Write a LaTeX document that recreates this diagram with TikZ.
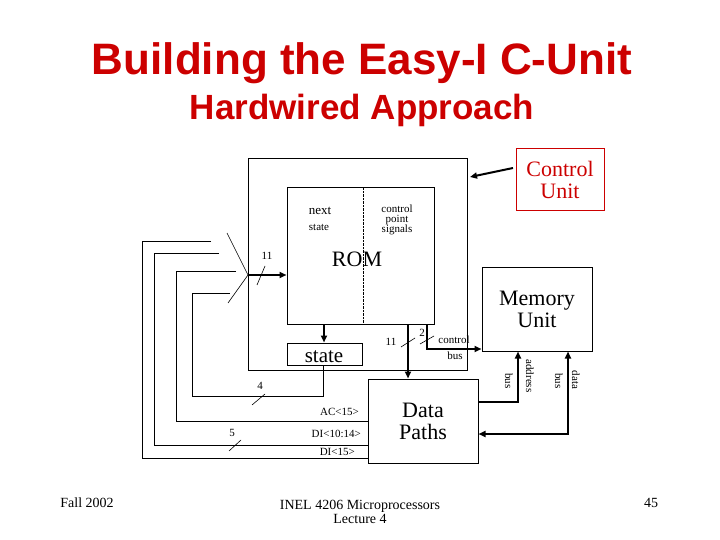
\documentclass[tikz,border=0pt]{standalone}
\usepackage{fontspec}
\setmainfont{Liberation Serif}
\newfontfamily\titlefont{Liberation Sans}
\usetikzlibrary{arrows.meta, positioning, calc}
\definecolor{titlered}{RGB}{204,0,0}
\newcommand{\fs}[1]{\fontsize{#1}{#1}\selectfont}
\begin{document}
\begin{tikzpicture}[x=1pt, y=-1pt,
  box/.style = {draw, line width=1pt, minimum width=0pt, minimum height=0pt, inner sep=0pt},
  wire/.style = {line width=1pt},
  arrow/.style = {line width=2pt, -{Triangle[length=7pt,width=6pt]}},
  lbl/.style = {font=\fs{11}, inner sep=1pt},
  slash/.style = {line width=0.6pt}
]
  \useasboundingbox (0,0) rectangle (720,540);

  % titles
  \node[font=\titlefont\bfseries\fs{44}, text=titlered] (title) at (362,63) {Building the Easy-I C-Unit};
  \node[font=\titlefont\bfseries\fs{35}, text=titlered] (subtitle) at (362,110) {Hardwired Approach};

  % blocks
  \node[box, minimum width=219pt, minimum height=211pt] (cu) at (357.5,264.5) {};
  \node[box, minimum width=147pt, minimum height=136pt] (rom) at (360.5,256) {};
  \draw[densely dotted] (363,188) -- (363,324);
  \node[font=\fs{22}] (romlbl) at (357,259) {ROM};
  \node[font=\fs{13}, align=left] (next) at (320,211) {next};
  \node[font=\fs{11}, align=left] (nstate) at (319,227) {state};
  \node[font=\fs{11}, align=center] (cps) at (397,220) {control\\[-1pt]point\\[-1pt]signals};
  \node[box, minimum width=75pt, minimum height=22pt] (state) at (324.5,354) {};
  \node[font=\fs{21}] (statelbl) at (324,357) {state};
  \node[box, minimum width=110pt, minimum height=84pt, align=center, font=\fs{22}] (mem) at (537,309) {Memory\\Unit};
  \node[box, minimum width=110pt, minimum height=84pt, align=center, font=\fs{22}] (dp) at (423,421) {Data\\Paths};
  \node[draw=titlered, line width=1pt, minimum width=88pt, minimum height=62pt, inner sep=0pt, align=center, font=\fs{22}, text=titlered] (cul) at (560,180) {Control\\Unit};
  \draw[arrow] (513,168) -- (470,177);

  % ROM to state / data paths / memory
  \draw[arrow] (324,324) -- (state.north -| 324,0);
  \draw[arrow] (408,324) -- (dp.north -| 408,0);
  \node[lbl] (n11b) at (391,342) {11};
  \draw[slash] (401,347) -- (415,338);
  \coordinate (cb) at (427,349);
  \draw[arrow] (427,324) -- (cb) -- (cb -| mem.west);
  \node[lbl] (n2) at (422,333) {2};
  \draw[slash] (420,344) -- (434,336);
  \node[lbl] (ctl) at (454,340) {control};
  \node[lbl] (bus1) at (455,356) {bus};

  % address and data bus
  \coordinate (ab) at (518,402);
  \draw[arrow] (dp.east |- ab) -- (ab) -- (ab |- mem.south);
  \coordinate (db) at (568,434);
  \draw[line width=2pt, {Triangle[length=7pt,width=6pt]}-{Triangle[length=7pt,width=6pt]}] (db |- mem.south) -- (db) -- (db -| dp.east);
  \node[lbl, rotate=-90] (addr) at (530,376) {address};
  \node[lbl, rotate=-90] (abus) at (509,381) {bus};
  \node[lbl, rotate=-90] (data) at (576,380) {data};
  \node[lbl, rotate=-90] (dbus) at (559,381) {bus};

  % feedback lines
  \coordinate (m) at (248,275);
  \draw[wire] (211,241) -- (142,241) -- (142,458) -- (dp.west |- 0,458);
  \draw[wire] (219,253) -- (154,253) -- (154,445) -- (dp.west |- 0,445);
  \draw[wire] (236,271) -- (176,271) -- (176,421) -- (dp.west |- 0,421);
  \draw[wire] (230,293) -- (192,293) -- (192,396) -- (323,396) -- (323,365);
  \draw[line width=0.6pt] (227,233) -- (m) -- (228,303);
  \draw[arrow] (m) -- (rom.west |- m);
  \node[lbl] (n11a) at (267,256) {11};
  \draw[slash] (257,285) -- (265,266);
  \node[lbl] (n4) at (260,386) {4};
  \draw[slash] (252,405) -- (265,394);
  \node[lbl] (n5) at (232,433) {5};
  \draw[slash] (229,451) -- (241,440);
  \node[lbl, anchor=east] (ac) at (360,412) {AC<15>};
  \node[lbl, anchor=east] (di1) at (362,434) {DI<10:14>};
  \node[lbl, anchor=east] (di2) at (356,452) {DI<15>};

  % footer
  \node[font=\fs{14}] (fall) at (87,503) {Fall 2002};
  \node[font=\fs{14}, align=center] (course) at (360,512) {INEL 4206 Microprocessors\\Lecture 4};
  \node[font=\fs{14}] (page) at (651,503) {45};
\end{tikzpicture}
\end{document}
